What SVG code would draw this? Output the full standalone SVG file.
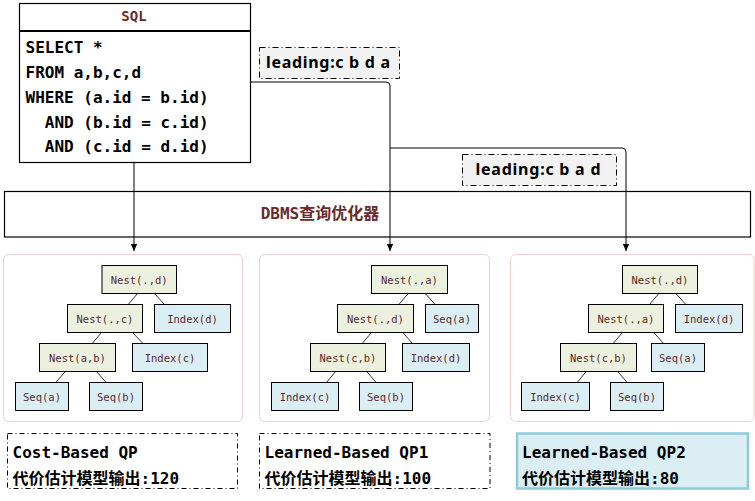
<svg xmlns="http://www.w3.org/2000/svg" width="755" height="501" viewBox="0 0 755 501">
<defs>
<marker id="arr" markerWidth="8" markerHeight="8" refX="7" refY="4" orient="auto" markerUnits="userSpaceOnUse">
<path d="M0,0.8 L7,4 L0,7.2 Z" fill="#000"/>
</marker>
<style>
.mono{font-family:"DejaVu Sans Mono","Liberation Mono","Noto Sans CJK SC",monospace;}
.sql{font-size:16px;font-weight:bold;fill:#000;}
.hdr{font-size:14px;font-weight:bold;fill:#6b2b2b;}
.lead{font-family:"Noto Sans","DejaVu Sans",sans-serif;font-size:16px;font-weight:bold;fill:#000;}
.leadbox{fill:#f2f2f2;stroke:#000;stroke-width:1;stroke-dasharray:6 3 1 3;}
.panel{fill:#fff;stroke:#f2cfcc;stroke-width:1;}
.g{fill:#ebf1de;stroke:#000;stroke-width:1;}
.b{fill:#dbeef4;stroke:#000;stroke-width:1;}
.nt{font-size:10.5px;fill:#5a2a2a;text-anchor:middle;}
.edge{stroke:#333;stroke-width:1;fill:none;}
.conn{stroke:#000;stroke-width:1;fill:none;}
.res{fill:#fff;stroke:#000;stroke-width:1;stroke-dasharray:5 3 1 3;}
.res2{fill:#dbeef4;stroke:#90cbd9;stroke-width:2.5;}
.rt{font-size:16px;font-weight:bold;fill:#000;}
</style>
</defs>
<rect width="755" height="501" fill="#fff"/>

<g id="sql">
<rect x="19.5" y="3.5" width="231" height="159" fill="#fff" stroke="#000" stroke-width="1.2"/>
<line x1="19.5" y1="31" x2="250.5" y2="31" stroke="#000" stroke-width="2"/>
<text class="mono hdr" x="134" y="21" text-anchor="middle">SQL</text>
<text class="mono sql" x="25.5" y="53">SELECT *</text>
<text class="mono sql" x="25.5" y="78">FROM a,b,c,d</text>
<text class="mono sql" x="25.5" y="103">WHERE (a.id = b.id)</text>
<text class="mono sql" x="44.8" y="127.5">AND (b.id = c.id)</text>
<text class="mono sql" x="44.8" y="152">AND (c.id = d.id)</text>
</g>

<g id="leading1">
<rect class="leadbox" x="259.5" y="47.5" width="140" height="31"/>
<text class="lead" x="266" y="67.5" textLength="124" lengthAdjust="spacing">leading:c b d a</text>
</g>

<g id="leading2">
<rect class="leadbox" x="462.5" y="154.5" width="154" height="31"/>
<text class="lead" x="475.5" y="175" textLength="125" lengthAdjust="spacing">leading:c b a d</text>
</g>

<g id="dbms">
<rect x="4.5" y="191.5" width="746" height="45.5" fill="#fff" stroke="#000" stroke-width="1.2"/>
<text class="mono" x="320" y="219" text-anchor="middle" font-size="16" font-weight="bold" fill="#6b2b2b">DBMS查询优化器</text>
</g>

<g id="connectors">
<path class="conn" d="M134,162 V251" marker-end="url(#arr)"/>
<path class="conn" d="M250,82 H386 Q390,82 390,86 V251" marker-end="url(#arr)"/>
<path class="conn" d="M390,148 H622 Q626,148 626,152 V251" marker-end="url(#arr)"/>
</g>

<g id="panel1">
<rect class="panel" x="3.5" y="254.5" width="239" height="167" rx="5"/>
<g class="edges">
<line class="edge" x1="137.7" y1="293.3" x2="128.3" y2="304.3"/>
<line class="edge" x1="154.3" y1="293.3" x2="164.3" y2="304.3"/>
<line class="edge" x1="101.7" y1="332.3" x2="92.3" y2="343.3"/>
<line class="edge" x1="132.3" y1="332.3" x2="142.7" y2="343.3"/>
<line class="edge" x1="65.7" y1="371" x2="56" y2="382.3"/>
<line class="edge" x1="96" y1="371" x2="106" y2="382.3"/>
</g>
<g id="p1-n1"><rect class="g" x="102" y="265.5" width="74.5" height="28"/><text class="mono nt" x="139.2" y="283.5">Nest(.,d)</text></g>
<g id="p1-n2"><rect class="g" x="67.5" y="304.5" width="75" height="28"/><text class="mono nt" x="105" y="322.5">Nest(.,c)</text></g>
<g id="p1-n3"><rect class="b" x="154.5" y="304.5" width="76" height="28"/><text class="mono nt" x="192.5" y="322.5">Index(d)</text></g>
<g id="p1-n4"><rect class="g" x="39.5" y="343.5" width="76" height="28"/><text class="mono nt" x="77.5" y="361.5">Nest(a,b)</text></g>
<g id="p1-n5"><rect class="b" x="132.5" y="343.5" width="75" height="28"/><text class="mono nt" x="170" y="361.5">Index(c)</text></g>
<g id="p1-n6"><rect class="b" x="15.5" y="382.5" width="53" height="28"/><text class="mono nt" x="42" y="400.5">Seq(a)</text></g>
<g id="p1-n7"><rect class="b" x="89.5" y="382.5" width="53" height="28"/><text class="mono nt" x="116" y="400.5">Seq(b)</text></g>
</g>

<g id="panel2">
<rect class="panel" x="259.5" y="254.5" width="230" height="167" rx="5"/>
<g class="edges">
<line class="edge" x1="408.3" y1="293.3" x2="399" y2="304.3"/>
<line class="edge" x1="425" y1="293.3" x2="435" y2="304.3"/>
<line class="edge" x1="371.7" y1="332.3" x2="362.3" y2="343.3"/>
<line class="edge" x1="402.7" y1="332.3" x2="412.3" y2="343.3"/>
<line class="edge" x1="336" y1="371" x2="326.7" y2="382.3"/>
<line class="edge" x1="366.3" y1="371" x2="376" y2="382.3"/>
</g>
<g id="p2-n1"><rect class="g" x="371.5" y="265.5" width="76" height="28"/><text class="mono nt" x="409.5" y="283.5">Nest(.,a)</text></g>
<g id="p2-n2"><rect class="g" x="337.5" y="304.5" width="76" height="28"/><text class="mono nt" x="375.5" y="322.5">Nest(.,d)</text></g>
<g id="p2-n3"><rect class="b" x="425.5" y="304.5" width="53" height="28"/><text class="mono nt" x="452" y="322.5">Seq(a)</text></g>
<g id="p2-n4"><rect class="g" x="310.5" y="343.5" width="75" height="28"/><text class="mono nt" x="348" y="361.5">Nest(c,b)</text></g>
<g id="p2-n5"><rect class="b" x="402.5" y="343.5" width="67" height="28"/><text class="mono nt" x="436" y="361.5">Index(d)</text></g>
<g id="p2-n6"><rect class="b" x="271.5" y="382.5" width="67" height="28"/><text class="mono nt" x="305" y="400.5">Index(c)</text></g>
<g id="p2-n7"><rect class="b" x="359.5" y="382.5" width="53" height="28"/><text class="mono nt" x="386" y="400.5">Seq(b)</text></g>
</g>

<g id="panel3">
<rect class="panel" x="510.5" y="254.5" width="243.5" height="167" rx="5"/>
<g class="edges">
<line class="edge" x1="659" y1="293.3" x2="649.7" y2="304.3"/>
<line class="edge" x1="675.7" y1="293.3" x2="685.7" y2="304.3"/>
<line class="edge" x1="622.7" y1="332.3" x2="613.3" y2="343.3"/>
<line class="edge" x1="653.7" y1="332.3" x2="663.3" y2="343.3"/>
<line class="edge" x1="586.7" y1="371" x2="577.3" y2="382.3"/>
<line class="edge" x1="617.3" y1="371" x2="627" y2="382.3"/>
</g>
<g id="p3-n1"><rect class="g" x="622.5" y="265.5" width="75" height="28"/><text class="mono nt" x="660" y="283.5">Nest(.,d)</text></g>
<g id="p3-n2"><rect class="g" x="588.5" y="304.5" width="75" height="28"/><text class="mono nt" x="626" y="322.5">Nest(.,a)</text></g>
<g id="p3-n3"><rect class="b" x="675.5" y="304.5" width="67" height="28"/><text class="mono nt" x="709" y="322.5">Index(d)</text></g>
<g id="p3-n4"><rect class="g" x="560.5" y="343.5" width="76" height="28"/><text class="mono nt" x="598.5" y="361.5">Nest(c,b)</text></g>
<g id="p3-n5"><rect class="b" x="651.5" y="343.5" width="53" height="28"/><text class="mono nt" x="678" y="361.5">Seq(a)</text></g>
<g id="p3-n6"><rect class="b" x="521.5" y="382.5" width="68" height="28"/><text class="mono nt" x="555.5" y="400.5">Index(c)</text></g>
<g id="p3-n7"><rect class="b" x="610.5" y="382.5" width="53" height="28"/><text class="mono nt" x="637" y="400.5">Seq(b)</text></g>
</g>

<g id="result1">
<rect class="res" x="7.5" y="433.5" width="230" height="55"/>
<text class="mono rt" x="12.5" y="458">Cost-Based QP</text>
<text class="mono rt" x="12.5" y="484">代价估计模型输出:120</text>
</g>
<g id="result2">
<rect class="res" x="259.5" y="433.5" width="230.5" height="55"/>
<text class="mono rt" x="264.5" y="458">Learned-Based QP1</text>
<text class="mono rt" x="264.5" y="484">代价估计模型输出:100</text>
</g>
<g id="result3">
<rect class="res2" x="517" y="433.5" width="231" height="55"/>
<text class="mono rt" x="522" y="458">Learned-Based QP2</text>
<text class="mono rt" x="522" y="484">代价估计模型输出:80</text>
</g>
</svg>
